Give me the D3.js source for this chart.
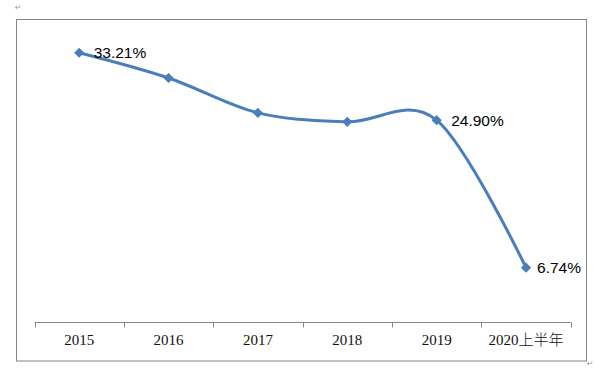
<!DOCTYPE html>
<html>
<head>
<meta charset="utf-8">
<script src="https://cdn.jsdelivr.net/npm/d3@7"></script>
<style>
  body { margin: 0; background: #fff; }
  svg { display: block; }
</style>
</head>
<body>
<svg id="chart" width="600" height="371"></svg>
<script>
// Chart data
var categories = ["2015", "2016", "2017", "2018", "2019", "2020上半年"];
var values = [33.21, 30.1, 25.8, 24.7, 24.90, 6.74];
// only some points carry a label
var labelText = ["33.21%", null, null, null, "24.90%", "6.74%"];

var LINE_COLOR = "#4a7ebb";
var GRAY = "#868686";

var svg = d3.select("#chart");

// outer frame
svg.append("rect")
    .attr("x", 16.5)
    .attr("y", 19.5)
    .attr("width", 570)
    .attr("height", 341.5)
    .attr("fill", "none")
    .attr("stroke", GRAY)
    .attr("stroke-width", 1);

// little return marks from the document
svg.append("text")
    .attr("x", 15)
    .attr("y", 10)
    .attr("font-family", "DejaVu Sans")
    .attr("font-size", 8)
    .attr("fill", "#999")
    .text("↵");
svg.append("text")
    .attr("x", 587)
    .attr("y", 366)
    .attr("font-family", "DejaVu Sans")
    .attr("font-size", 8)
    .attr("fill", "#999")
    .text("↵");

// scales
var x = d3.scaleBand()
    .domain(categories)
    .range([34.5, 570.7]);

var y = d3.scaleLinear()
    .domain([0, 35])
    .range([322.4, 322.4 - 35 * 8.12]);

function cx(d) { return x(d) + x.bandwidth() / 2; }

// x axis: line + tick marks between categories, going down
var axisG = svg.append("g")
    .attr("transform", "translate(0," + Math.round(y(0)) + ".5)");

axisG.append("line")
    .attr("x1", x.range()[0])
    .attr("x2", x.range()[1])
    .attr("stroke", GRAY);

var tickPos = categories.map(function(c) { return x(c); }).concat([x.range()[1]]);
axisG.selectAll(".tick-mark")
    .data(tickPos)
    .enter()
    .append("line")
    .attr("class", "tick-mark")
    .attr("x1", function(d) { return Math.round(d) + 0.5; })
    .attr("x2", function(d) { return Math.round(d) + 0.5; })
    .attr("y1", 0)
    .attr("y2", 5)
    .attr("stroke", GRAY);

axisG.selectAll(".cat-label")
    .data(categories)
    .enter()
    .append("text")
    .attr("class", "cat-label")
    .attr("x", function(d) { return cx(d); })
    .attr("y", 22.5)
    .attr("text-anchor", "middle")
    .attr("font-family", "'Liberation Serif', 'Noto Sans CJK SC', serif")
    .attr("font-size", 15)
    .attr("font-weight", 300)
    .attr("fill", "#111")
    .text(function(d) { return d; });

// smoothed line
var line = d3.line()
    .x(function(d, i) { return cx(categories[i]); })
    .y(function(d) { return y(d); })
    .curve(d3.curveCardinal.tension(0));

svg.append("path")
    .datum(values)
    .attr("d", line)
    .attr("fill", "none")
    .attr("stroke", LINE_COLOR)
    .attr("stroke-width", 3)
    .attr("stroke-linejoin", "round");

// diamond markers
var diamond = d3.symbol().type(d3.symbolDiamond2).size(66);
svg.selectAll(".marker")
    .data(values)
    .enter()
    .append("path")
    .attr("class", "marker")
    .attr("d", diamond)
    .attr("transform", function(d, i) {
        return "translate(" + cx(categories[i]) + "," + y(d) + ")";
    })
    .attr("fill", LINE_COLOR);

// value labels on the right of the points
var labelData = values.map(function(v, i) { return { v: v, i: i, text: labelText[i] }; })
    .filter(function(d) { return d.text !== null; });

svg.selectAll(".val-label")
    .data(labelData)
    .enter()
    .append("text")
    .attr("class", "val-label")
    .attr("x", function(d) { return cx(categories[d.i]) + (d.i === 5 ? 11 : 14.5); })
    .attr("y", function(d) { return y(d.v); })
    .attr("dy", "0.36em")
    .attr("font-family", "'Liberation Sans', Arial, sans-serif")
    .attr("font-size", 15.5)
    .attr("fill", "#000")
    .text(function(d) { return d.text; });
</script>
</body>
</html>
